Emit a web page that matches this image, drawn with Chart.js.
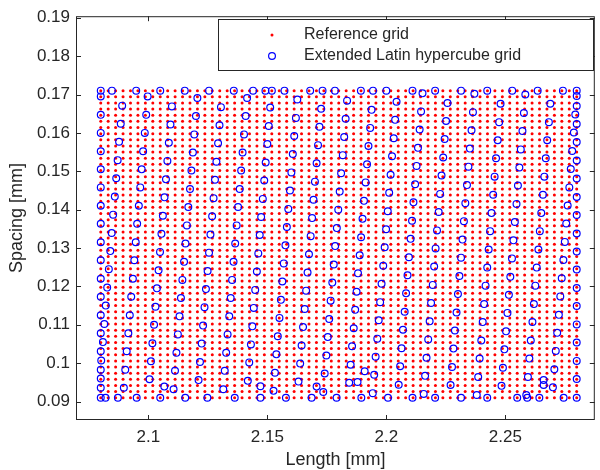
<!DOCTYPE html>
<html lang="en">
<head>
<meta charset="UTF-8">
<title>Reference grid vs extended Latin hypercube grid</title>
<script src="https://cdn.jsdelivr.net/npm/chart.js"></script>
<style>
    html, body { margin: 0; padding: 0; background: #fff; }
    #wrap { position: relative; width: 600px; height: 470px; }
</style>
</head>
<body>
<div id="wrap"><canvas id="gridChart"></canvas></div>
<script>
// x levels of the reference grid (Length, mm)
const lengthLevels = [
    2.08, 2.083125, 2.08625, 2.089375, 2.0925, 2.095625, 2.09875, 2.101875, 2.105, 2.108125,
    2.11125, 2.114375, 2.1175, 2.120625, 2.12375, 2.126875, 2.13, 2.133125, 2.13625, 2.139375,
    2.1425, 2.145625, 2.14875, 2.151875, 2.155, 2.158125, 2.16125, 2.164375, 2.1675, 2.170625,
    2.17375, 2.176875, 2.18, 2.183125, 2.18625, 2.189375, 2.1925, 2.195625, 2.19875, 2.201875,
    2.205, 2.208125, 2.21125, 2.214375, 2.2175, 2.220625, 2.22375, 2.226875, 2.23, 2.233125,
    2.23625, 2.239375, 2.2425, 2.245625, 2.24875, 2.251875, 2.255, 2.258125, 2.26125, 2.264375,
    2.2675, 2.270625, 2.27375, 2.276875, 2.28
];
// y levels of the reference grid (Spacing, mm)
const spacingLevels = [
    0.091, 0.0926, 0.0942, 0.0958, 0.0974, 0.099, 0.1006, 0.1022, 0.1038, 0.1054,
    0.107, 0.1086, 0.1102, 0.1118, 0.1134, 0.115, 0.1166, 0.1182, 0.1198, 0.1214,
    0.123, 0.1246, 0.1262, 0.1278, 0.1294, 0.131, 0.1326, 0.1342, 0.1358, 0.1374,
    0.139, 0.1406, 0.1422, 0.1438, 0.1454, 0.147, 0.1486, 0.1502, 0.1518, 0.1534,
    0.155, 0.1566, 0.1582, 0.1598, 0.1614, 0.163, 0.1646, 0.1662, 0.1678, 0.1694, 0.171
];

// extended latin hypercube points (left to right)
const lhsLength = [
    2.08, 2.08, 2.08, 2.08, 2.08, 2.08, 2.08, 2.08, 2.08, 2.08, 2.08, 2.08, 2.08, 2.08, 2.08, 2.08, 2.08,
    2.0890, 2.0884, 2.0877, 2.0871, 2.0865, 2.0859, 2.0852, 2.0846, 2.0840, 2.0834, 2.0827, 2.0821, 2.0815, 2.0809, 2.0802, 2.0800, 2.0800,
    2.0997, 2.0991, 2.0985, 2.0978, 2.0972, 2.0966, 2.0960, 2.0953, 2.0947, 2.0941, 2.0935, 2.0928, 2.0922, 2.0916, 2.0909, 2.0903, 2.0897,
    2.1099, 2.1093, 2.1086, 2.1080, 2.1074, 2.1068, 2.1061, 2.1055, 2.1049, 2.1043, 2.1036, 2.1030, 2.1024, 2.1017, 2.1011, 2.1005,
    2.1206, 2.1200, 2.1193, 2.1187, 2.1181, 2.1175, 2.1168, 2.1162, 2.1156, 2.1150, 2.1143, 2.1137, 2.1131, 2.1124, 2.1118, 2.1112, 2.1106,
    2.1305, 2.1299, 2.1293, 2.1286, 2.1280, 2.1274, 2.1268, 2.1261, 2.1255, 2.1249, 2.1242, 2.1236, 2.1230, 2.1224, 2.1217, 2.1211,
    2.1415, 2.1409, 2.1402, 2.1396, 2.1390, 2.1384, 2.1377, 2.1371, 2.1365, 2.1358, 2.1352, 2.1346, 2.1340, 2.1333, 2.1327, 2.1321, 2.1315,
    2.1512, 2.1506, 2.1500, 2.1493, 2.1487, 2.1481, 2.1474, 2.1468, 2.1462, 2.1456, 2.1449, 2.1443, 2.1437, 2.1431, 2.1424, 2.1418,
    2.1626, 2.1620, 2.1613, 2.1607, 2.1601, 2.1595, 2.1588, 2.1582, 2.1576, 2.1569, 2.1563, 2.1557, 2.1551, 2.1544, 2.1538, 2.1532, 2.1526,
    2.1726, 2.1719, 2.1713, 2.1707, 2.1700, 2.1694, 2.1688, 2.1682, 2.1675, 2.1669, 2.1663, 2.1657, 2.1650, 2.1644, 2.1638, 2.1631,
    2.1835, 2.1829, 2.1823, 2.1817, 2.1810, 2.1804, 2.1798, 2.1792, 2.1785, 2.1779, 2.1773, 2.1766, 2.1760, 2.1754, 2.1748, 2.1741, 2.1735,
    2.1944, 2.1938, 2.1932, 2.1925, 2.1919, 2.1913, 2.1906, 2.1900, 2.1894, 2.1888, 2.1881, 2.1875, 2.1869, 2.1863, 2.1856, 2.1850, 2.1844,
    2.2043, 2.2037, 2.2031, 2.2024, 2.2018, 2.2012, 2.2006, 2.1999, 2.1993, 2.1987, 2.1980, 2.1974, 2.1968, 2.1962, 2.1955, 2.1949, 2.1943,
    2.2152, 2.2146, 2.2140, 2.2133, 2.2127, 2.2121, 2.2114, 2.2108, 2.2102, 2.2095, 2.2089, 2.2083, 2.2077, 2.2070, 2.2064, 2.2058, 2.2052,
    2.2257, 2.2251, 2.2245, 2.2239, 2.2232, 2.2226, 2.2220, 2.2213, 2.2207, 2.2201, 2.2195, 2.2188, 2.2182, 2.2176, 2.2169, 2.2163, 2.2157,
    2.2370, 2.2364, 2.2358, 2.2351, 2.2345, 2.2339, 2.2332, 2.2326, 2.2320, 2.2314, 2.2307, 2.2301, 2.2295, 2.2288, 2.2282, 2.2276, 2.2270,
    2.2480, 2.2474, 2.2468, 2.2461, 2.2455, 2.2449, 2.2442, 2.2436, 2.2430, 2.2424, 2.2417, 2.2411, 2.2405, 2.2399, 2.2392, 2.2386, 2.2380,
    2.2584, 2.2578, 2.2572, 2.2565, 2.2559, 2.2553, 2.2547, 2.2540, 2.2534, 2.2528, 2.2521, 2.2515, 2.2509, 2.2503, 2.2496, 2.2490, 2.2484,
    2.2689, 2.2683, 2.2676, 2.2670, 2.2664, 2.2658, 2.2651, 2.2645, 2.2639, 2.2632, 2.2626, 2.2620, 2.2614, 2.2607, 2.2601, 2.2595, 2.2588,
    2.2800, 2.2794, 2.2788, 2.2781, 2.2775, 2.2769, 2.2762, 2.2756, 2.2750, 2.2744, 2.2737, 2.2731, 2.2725, 2.2718, 2.2712, 2.2706, 2.2700,
    2.28, 2.28, 2.28, 2.28, 2.28, 2.28, 2.28, 2.28, 2.28, 2.28, 2.28, 2.28, 2.28, 2.28, 2.28, 2.28,
    // top edge
    2.0800, 2.0847, 2.0949, 2.1050, 2.1153, 2.1255, 2.1359, 2.1440, 2.1492, 2.1519, 2.1572, 2.1680,
    2.1732, 2.1784, 2.1893, 2.2000, 2.2110, 2.2205, 2.2314, 2.2424, 2.2529, 2.2636, 2.2742, 2.2800,
    // bottom edge
    2.0820, 2.0872, 2.0951, 2.1050, 2.1155, 2.1248, 2.1363, 2.1471, 2.1578, 2.1686, 2.1791,
    2.1895, 2.2007, 2.2110, 2.2205, 2.2314, 2.2424, 2.2550, 2.2592, 2.2643, 2.2745, 2.2800,
    // near the bottom edge
    2.1471, 2.1707, 2.1879, 2.1909, 2.1067, 2.2661, 2.2661
];
const lhsSpacing = [
    0.1695, 0.1647, 0.1600, 0.1552, 0.1505, 0.1458, 0.1410, 0.1363, 0.1315, 0.1268, 0.1220, 0.1173, 0.1125, 0.1078, 0.1031, 0.0983, 0.0936,
    0.1671, 0.1624, 0.1577, 0.1529, 0.1482, 0.1434, 0.1387, 0.1339, 0.1292, 0.1245, 0.1197, 0.1150, 0.1102, 0.1055, 0.1007, 0.0960, 0.0910,
    0.1695, 0.1647, 0.1600, 0.1552, 0.1505, 0.1458, 0.1410, 0.1363, 0.1315, 0.1268, 0.1220, 0.1173, 0.1125, 0.1078, 0.1031, 0.0983, 0.0936,
    0.1669, 0.1622, 0.1574, 0.1527, 0.1479, 0.1432, 0.1384, 0.1337, 0.1290, 0.1242, 0.1195, 0.1147, 0.1100, 0.1052, 0.1005, 0.0958,
    0.1691, 0.1644, 0.1596, 0.1549, 0.1502, 0.1454, 0.1407, 0.1359, 0.1312, 0.1264, 0.1217, 0.1170, 0.1122, 0.1075, 0.1027, 0.0980, 0.0932,
    0.1667, 0.1620, 0.1573, 0.1525, 0.1478, 0.1430, 0.1383, 0.1335, 0.1288, 0.1240, 0.1193, 0.1146, 0.1098, 0.1051, 0.1003, 0.0956,
    0.1691, 0.1644, 0.1596, 0.1549, 0.1502, 0.1454, 0.1407, 0.1359, 0.1312, 0.1264, 0.1217, 0.1170, 0.1122, 0.1075, 0.1027, 0.0980, 0.0932,
    0.1666, 0.1618, 0.1571, 0.1523, 0.1476, 0.1428, 0.1381, 0.1334, 0.1286, 0.1239, 0.1191, 0.1144, 0.1096, 0.1049, 0.1002, 0.0954,
    0.1687, 0.1639, 0.1592, 0.1545, 0.1497, 0.1450, 0.1402, 0.1355, 0.1307, 0.1260, 0.1213, 0.1165, 0.1118, 0.1070, 0.1023, 0.0975, 0.0928,
    0.1663, 0.1616, 0.1568, 0.1521, 0.1473, 0.1426, 0.1378, 0.1331, 0.1284, 0.1236, 0.1189, 0.1141, 0.1094, 0.1046, 0.0999, 0.0952,
    0.1684, 0.1637, 0.1589, 0.1542, 0.1495, 0.1447, 0.1400, 0.1352, 0.1305, 0.1257, 0.1210, 0.1163, 0.1115, 0.1068, 0.1020, 0.0973, 0.0925,
    0.1710, 0.1660, 0.1613, 0.1566, 0.1518, 0.1471, 0.1423, 0.1376, 0.1328, 0.1281, 0.1234, 0.1186, 0.1139, 0.1091, 0.1044, 0.0996, 0.0949,
    0.1681, 0.1634, 0.1586, 0.1539, 0.1491, 0.1444, 0.1396, 0.1349, 0.1302, 0.1254, 0.1207, 0.1159, 0.1112, 0.1064, 0.1017, 0.0970, 0.0922,
    0.1703, 0.1656, 0.1609, 0.1561, 0.1514, 0.1466, 0.1419, 0.1371, 0.1324, 0.1276, 0.1229, 0.1182, 0.1134, 0.1087, 0.1039, 0.0992, 0.0944,
    0.1678, 0.1631, 0.1584, 0.1536, 0.1489, 0.1441, 0.1394, 0.1346, 0.1299, 0.1252, 0.1204, 0.1157, 0.1109, 0.1062, 0.1014, 0.0967, 0.0920,
    0.1702, 0.1654, 0.1607, 0.1559, 0.1512, 0.1464, 0.1417, 0.1370, 0.1322, 0.1275, 0.1227, 0.1180, 0.1132, 0.1085, 0.1038, 0.0990, 0.0943,
    0.1676, 0.1628, 0.1581, 0.1534, 0.1486, 0.1439, 0.1391, 0.1344, 0.1296, 0.1249, 0.1202, 0.1154, 0.1107, 0.1059, 0.1012, 0.0964, 0.0917,
    0.1700, 0.1652, 0.1605, 0.1557, 0.1510, 0.1463, 0.1415, 0.1368, 0.1320, 0.1273, 0.1225, 0.1178, 0.1131, 0.1083, 0.1036, 0.0988, 0.0941,
    0.1676, 0.1628, 0.1581, 0.1534, 0.1486, 0.1439, 0.1391, 0.1344, 0.1296, 0.1249, 0.1202, 0.1154, 0.1107, 0.1059, 0.1012, 0.0964, 0.0917,
    0.1696, 0.1648, 0.1601, 0.1553, 0.1506, 0.1458, 0.1411, 0.1364, 0.1316, 0.1269, 0.1221, 0.1174, 0.1126, 0.1079, 0.1032, 0.0984, 0.0937,
    0.1670, 0.1623, 0.1576, 0.1528, 0.1481, 0.1433, 0.1386, 0.1338, 0.1291, 0.1244, 0.1196, 0.1149, 0.1101, 0.1054, 0.1006, 0.0959,
    // top edge
    0.171, 0.171, 0.171, 0.171, 0.171, 0.171, 0.171, 0.171, 0.171, 0.171, 0.171, 0.171,
    0.171, 0.171, 0.171, 0.171, 0.171, 0.171, 0.171, 0.171, 0.171, 0.171, 0.171, 0.171,
    // bottom edge
    0.091, 0.091, 0.091, 0.091, 0.091, 0.091, 0.091, 0.091, 0.091, 0.091, 0.091,
    0.091, 0.091, 0.091, 0.091, 0.091, 0.091, 0.091, 0.091, 0.091, 0.091, 0.091,
    // near the bottom edge
    0.0940, 0.0939, 0.0951, 0.0979, 0.0939, 0.0956, 0.0943
];
const xTicks = [2.1, 2.15, 2.2, 2.25];
const yTicks = [0.09, 0.1, 0.11, 0.12, 0.13, 0.14, 0.15, 0.16, 0.17, 0.18, 0.19];
const seriesNames = ['Reference grid', 'Extended Latin hypercube grid'];

if (lhsLength.length !== lhsSpacing.length) {
    console.warn('lhs arrays differ in length', lhsLength.length, lhsSpacing.length);
}

const refPoints = [];
lengthLevels.forEach(x => spacingLevels.forEach(y => refPoints.push({ x: x, y: y })));
const lhsPoints = lhsLength.map((x, i) => ({ x: x, y: lhsSpacing[i] }));

const fontName = '"Liberation Sans", Arial, sans-serif';
const inkColor = '#262626';

function fmt(v) {
    return String(Number(v.toFixed(4)));
}

// MATLAB style box, inward ticks and legend
const matlabFrame = {
    id: 'matlabFrame',
    afterDatasetsDraw(chart) {
        const { ctx, chartArea: a, scales: { x, y } } = chart;
        ctx.save();
        ctx.strokeStyle = inkColor;
        ctx.lineWidth = 1;
        ctx.strokeRect(a.left + 0.5, a.top + 0.5, a.right - a.left - 1, a.bottom - a.top - 1);
        ctx.beginPath();
        xTicks.forEach(v => {
            const px = Math.round(x.getPixelForValue(v)) + 0.5;
            ctx.moveTo(px, a.bottom); ctx.lineTo(px, a.bottom - 5);
            ctx.moveTo(px, a.top); ctx.lineTo(px, a.top + 5);
        });
        yTicks.forEach(v => {
            const py = Math.round(y.getPixelForValue(v)) + 0.5;
            ctx.moveTo(a.left, py); ctx.lineTo(a.left + 5, py);
            ctx.moveTo(a.right, py); ctx.lineTo(a.right - 5, py);
        });
        ctx.stroke();

        // legend box
        const lx = 218, ly = 19, lw = 375, lh = 51;
        ctx.fillStyle = '#fff';
        ctx.fillRect(lx, ly, lw, lh);
        ctx.strokeStyle = inkColor;
        ctx.strokeRect(lx + 0.5, ly + 0.5, lw, lh);
        ctx.fillStyle = '#ff0000';
        ctx.beginPath();
        ctx.arc(272, 35, 1.5, 0, Math.PI * 2);
        ctx.fill();
        ctx.strokeStyle = '#0000ff';
        ctx.lineWidth = 1.2;
        ctx.beginPath();
        ctx.arc(272, 56, 3.4, 0, Math.PI * 2);
        ctx.stroke();
        ctx.fillStyle = inkColor;
        ctx.font = '16px ' + fontName;
        ctx.textBaseline = 'middle';
        ctx.fillText(seriesNames[0], 304, 35);
        ctx.fillText(seriesNames[1], 304, 56);
        ctx.restore();
    }
};

new Chart(document.getElementById('gridChart'), {
    type: 'scatter',
    data: {
        datasets: [
            {
                label: seriesNames[0],
                data: refPoints,
                pointRadius: 1.5,
                pointBorderWidth: 0,
                backgroundColor: '#ff0000',
                borderColor: '#ff0000',
                order: 2
            },
            {
                label: seriesNames[1],
                data: lhsPoints,
                pointRadius: 3.4,
                pointBorderWidth: 1.2,
                backgroundColor: 'rgba(0,0,0,0)',
                borderColor: '#0000ff',
                order: 1
            }
        ]
    },
    options: {
        responsive: true,
        maintainAspectRatio: false,
        animation: false,
        events: [],
        layout: { padding: { top: 11, right: 2, left: 0, bottom: 0 } },
        plugins: {
            legend: { display: false },
            tooltip: { enabled: false }
        },
        scales: {
            x: {
                type: 'linear',
                min: 2.0696,
                max: 2.2876,
                afterFit(scale) { scale.height = 50; },
                afterBuildTicks(scale) { scale.ticks = xTicks.map(v => ({ value: v })); },
                grid: { display: false, drawTicks: false },
                border: { display: false },
                ticks: {
                    padding: 7,
                    color: inkColor,
                    font: { family: fontName, size: 17 },
                    callback: v => fmt(v)
                },
                title: {
                    display: true,
                    text: 'Length [mm]',
                    color: inkColor,
                    font: { family: fontName, size: 18 },
                    padding: { top: 0, bottom: -1 }
                }
            },
            y: {
                type: 'linear',
                min: 0.0852,
                max: 0.1904,
                afterFit(scale) { scale.width = 76; },
                afterBuildTicks(scale) { scale.ticks = yTicks.map(v => ({ value: v })); },
                grid: { display: false, drawTicks: false },
                border: { display: false },
                ticks: {
                    padding: 6,
                    color: inkColor,
                    font: { family: fontName, size: 17 },
                    callback: v => fmt(v)
                },
                title: {
                    display: true,
                    text: 'Spacing [mm]',
                    color: inkColor,
                    font: { family: fontName, size: 18 },
                    padding: { top: 6, bottom: 0 }
                }
            }
        }
    },
    plugins: [matlabFrame]
});
</script>
</body>
</html>
